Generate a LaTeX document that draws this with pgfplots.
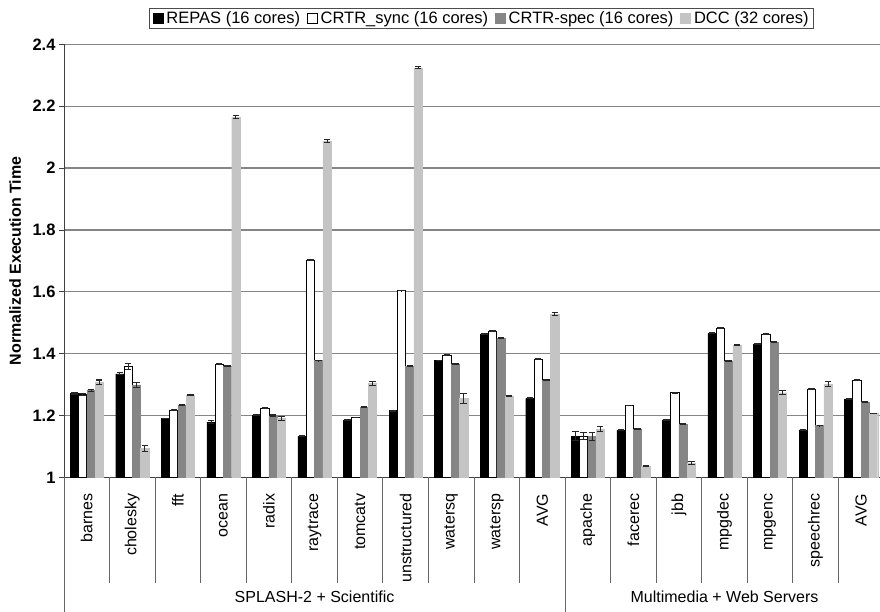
\documentclass[border=0pt]{standalone}
\usepackage{fontspec}
\setmainfont{Liberation Sans}
\usepackage{pgfplots}
\pgfplotsset{compat=1.18}
\usepackage{pgfplotstable}

\definecolor{cgray}{HTML}{868686}
\definecolor{clight}{HTML}{C4C4C4}
\definecolor{cgrid}{HTML}{858585}

\pgfplotstableread{
x repas repasE sync syncE spec specE dcc dccE
0  1.272 0.002 1.268 0.002 1.281 0.004 1.308 0.007
1  1.335 0.003 1.358 0.009 1.299 0.009 1.094 0.009
2  1.191 0.001 1.218 0.001 1.234 0.001 1.267 0.001
3  1.179 0.004 1.367 0.001 1.360 0.001 2.165 0.004
4  1.202 0.002 1.224 0.002 1.199 0.003 1.191 0.006
5  1.134 0.001 1.703 0.001 1.378 0.001 2.088 0.004
6  1.186 0.001 1.194 0.001 1.227 0.001 1.304 0.007
7  1.216 0.001 1.604 0.001 1.360 0.001 2.324 0.003
8  1.378 0.001 1.396 0.001 1.367 0.001 1.255 0.017
9  1.464 0.001 1.473 0.001 1.450 0.001 1.264 0.002
10 1.256 0.001 1.382 0.001 1.315 0.001 1.528 0.004
11 1.134 0.015 1.134 0.010 1.132 0.012 1.157 0.007
12 1.153 0.001 1.233 0.001 1.156 0.001 1.037 0.002
13 1.186 0.001 1.274 0.001 1.173 0.001 1.046 0.005
14 1.466 0.001 1.483 0.001 1.377 0.001 1.428 0.001
15 1.431 0.001 1.463 0.001 1.437 0.001 1.274 0.006
16 1.154 0.001 1.286 0.001 1.168 0.001 1.302 0.009
17 1.254 0.001 1.315 0.001 1.244 0.001 1.207 0.001
}\data

\pgfplotsset{
  sqlegend/.style={legend image code/.code={\draw[##1, line width=0.6pt] (0pt,-5pt) rectangle (10pt,5pt);}},
  myerr/.style={error bars/.cd, y dir=both, y explicit,
     error bar style={draw=black!85, line width=0.8pt},
     error mark options={rotate=90, draw=black!85, line width=1.1pt, mark size=3.2pt}},
}

\begin{document}
\begin{tikzpicture}
\path[use as bounding box] (0pt,0pt) rectangle (880pt,612pt);
\begin{axis}[
  at={(64pt,134.5pt)}, anchor=south west,
  scale only axis, width=816pt, height=433.2pt,
  xmin=-0.5, xmax=17.414, ymin=1, ymax=2.4,
  axis lines*=left,
  axis line style={black!75, line width=0.8pt},
  ytick={1,1.2,1.4,1.6,1.8,2,2.2,2.4},
  ymajorgrids, major grid style={cgrid, line width=1.3pt},
  tick align=outside, major tick length=5pt,
  ytick style={black!75, line width=0.8pt},
  xtick={0,...,17},
  xticklabels={barnes,cholesky,fft,ocean,radix,raytrace,tomcatv,unstructured,watersq,watersp,AVG,apache,facerec,jbb,mpgdec,mpgenc,speechrec,AVG},
  xtick style={draw=none},
  xticklabel style={rotate=90, anchor=east, inner sep=0pt, font=\fontsize{16}{19}\selectfont},
  xticklabel shift=11pt,
  yticklabel style={font=\bfseries\fontsize{16.5}{19}\selectfont},
  /pgf/number format/assume math mode=true,
  ylabel={Normalized Execution Time},
  ylabel style={at={(axis description cs:-0.0600,0.5)}, anchor=center, font=\bfseries\fontsize{16}{19}\selectfont},
  ybar, bar width=0.182,
  clip=false,
  legend style={at={(axis description cs:0.512,1.0353)}, anchor=south, legend columns=4,
     draw=black!70, line width=0.8pt, font=\fontsize{16.5}{19}\selectfont,
     /tikz/every even column/.append style={column sep=5pt},
     /tikz/every odd column/.append style={column sep=1pt},
     inner xsep=3pt, inner ysep=1.5pt},
]
\addplot[fill=black, draw=black, bar shift=-0.273, sqlegend, myerr] table[x=x, y=repas, y error=repasE] \data;
\addplot[fill=white, draw=black, line width=0.8pt, bar shift=-0.091, sqlegend, myerr] table[x=x, y=sync, y error=syncE] \data;
\addplot[fill=cgray, draw=cgray, bar shift=0.091, sqlegend, myerr] table[x=x, y=spec, y error=specE] \data;
\addplot[fill=clight, draw=clight, bar shift=0.273, sqlegend, myerr] table[x=x, y=dcc, y error=dccE] \data;
\legend{REPAS (16 cores),CRTR\_sync (16 cores),CRTR-spec (16 cores),DCC (32 cores)}

\pgfplotsinvokeforeach{0.5,1.5,2.5,3.5,4.5,5.5,6.5,7.5,8.5,9.5,11.5,12.5,13.5,14.5,15.5,16.5}{
  \draw[black!60, line width=0.8pt] (axis cs:#1,1) -- ++(0pt,-105.5pt);
}
\draw[black!60, line width=0.8pt] (axis cs:-0.5,1) -- ++(0pt,-134.5pt);
\draw[black!60, line width=0.8pt] (axis cs:10.5,1) -- ++(0pt,-134.5pt);
\node[font=\fontsize{16}{19}\selectfont, yshift=-119.5pt] at (axis cs:5,1) {SPLASH-2 + Scientific};
\node[font=\fontsize{16}{19}\selectfont, yshift=-119.5pt] at (axis cs:14,1) {Multimedia + Web Servers};
\end{axis}
\end{tikzpicture}
\end{document}
